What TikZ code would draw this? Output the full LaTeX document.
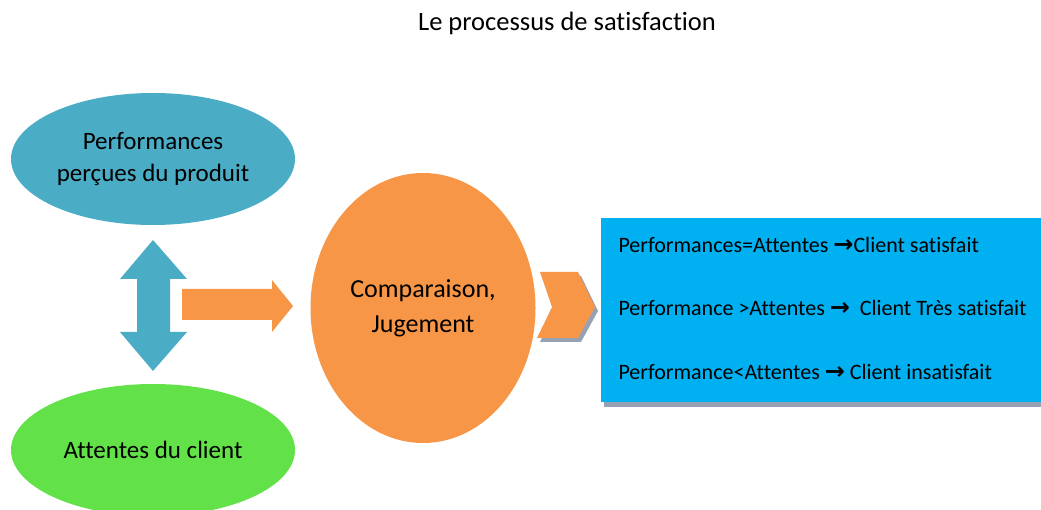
\documentclass[tikz,border=0pt]{standalone}
\usepackage{fontspec}
\setmainfont[Ligatures=NoCommon]{Carlito}
\newfontfamily\flechefont{DejaVu Sans Bold}
\usetikzlibrary{shapes.geometric, positioning}
\definecolor{perfblue}{RGB}{75,172,198}
\definecolor{attgreen}{RGB}{98,226,72}
\definecolor{jugeorange}{RGB}{247,150,70}
\definecolor{boxblue}{RGB}{0,176,240}
\definecolor{ombre}{RGB}{150,162,180}
\newcommand{\fleche}{{\flechefont\fontsize{24}{26}\selectfont\symbol{"2192}}}

\begin{document}
\begin{tikzpicture}[x=1pt,y=-1pt,
    bulle/.style={ellipse, minimum width=284pt, minimum height=132pt, align=center, font=\fontsize{25}{32}\selectfont},
    ligne/.style={anchor=west, font=\fontsize{22}{26}\selectfont}]
\useasboundingbox (0,0) rectangle (1041,510);
\clip (0,0) rectangle (1041,510);
\node (titre) at (567,23) {\fontsize{26.5}{30}\selectfont Le processus de satisfaction};
\node[bulle, fill=perfblue] (perf) at (153,159) {Performances\\perçues du produit};
\node[bulle, fill=attgreen] (att) at (153,450) {Attentes du client};
\node[ellipse, fill=jugeorange, minimum width=225pt, minimum height=270pt, align=center,
    font=\fontsize{26}{35}\selectfont] (comp) at (423,308) {Comparaison,\\Jugement};
\fill[perfblue] (153,240) -- (187,279) -- (170,279) -- (170,332) -- (187,332) -- (153,371)
    -- (120,332) -- (137,332) -- (137,279) -- (120,279) -- cycle;
\fill[jugeorange] (182,289) -- (272,289) -- (272,280) -- (293,306) -- (272,332) -- (272,320)
    -- (182,320) -- cycle;
\begin{scope}
    \fill[ombre] (542,276) -- (581,276) -- (598,311) -- (581,342) -- (540,342) -- (555,311) -- cycle;
    \fill[jugeorange] (540,272) -- (578,272) -- (595,307) -- (578,338) -- (537,338) -- (552,307) -- cycle;
\end{scope}
\begin{scope}
    \fill[ombre] (604,222) rectangle (1050,407);
    \fill[boxblue] (601,218) rectangle (1050,402);
    \node[ligne] (l1) at (615,245) {Performances=Attentes \fleche Client satisfait};
    \node[ligne] (l2) at (615,308) {Performance >Attentes \fleche\ \ Client Très satisfait};
    \node[ligne] (l3) at (615,372) {Performance<Attentes \fleche\ Client insatisfait};
\end{scope}
\end{tikzpicture}
\end{document}
